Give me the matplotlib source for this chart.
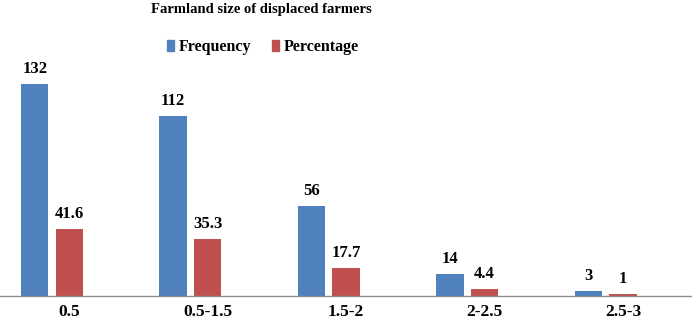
import matplotlib
matplotlib.use("Agg")
import matplotlib.pyplot as plt
import numpy as np

categories = ["0.5", "0.5-1.5", "1.5-2", "2-2.5", "2.5-3"]
frequency = [132, 112, 56, 14, 3]
percentage = [41.6, 35.3, 17.7, 4.4, 1]
freq_labels = ["132", "112", "56", "14", "3"]
pct_labels = ["41.6", "35.3", "17.7", "4.4", "1"]

plt.rcParams['font.family'] = ['Liberation Serif', 'DejaVu Serif']
plt.rcParams['font.weight'] = 'bold'

W, H = 692, 325
fig = plt.figure(figsize=(W/100, H/100), dpi=100)
ax = fig.add_axes([0, (H-296)/H, 1, 296/H])

blue = "#4F81BD"
red = "#C0504D"
x = np.arange(len(categories))
bw = 0.199
off = 0.125
b1 = ax.bar(x - off, frequency, bw, color=blue, label="Frequency")
b2 = ax.bar(x + off, percentage, bw, color=red, label="Percentage")

for bars, labs in ((b1, freq_labels), (b2, pct_labels)):
    for rect, lab in zip(bars, labs):
        ax.annotate(lab, (rect.get_x() + rect.get_width()/2, rect.get_height()),
                    xytext=(0, 5), textcoords="offset points", ha="center", va="bottom",
                    fontsize=12, fontweight="bold")

ax.set_xlim(-52/138.4, (692-52)/138.4)
ax.set_ylim(0, 296/1.606)
ax.set_xticks(x + off)
ax.set_xticklabels(categories, fontsize=12.5, fontweight="bold")
ax.tick_params(axis='x', length=0, pad=6)
ax.set_yticks([])
for s in ["top", "left", "right"]:
    ax.spines[s].set_visible(False)
ax.spines["bottom"].set_color("#8C8C8C")
ax.spines["bottom"].set_linewidth(1.0)
ax.patch.set_alpha(0)

fig.text(261/W, 1 - 9/H, "Farmland size of displaced farmers", ha="center", va="center",
         fontsize=10.5, fontweight="bold")

handles = [plt.Rectangle((0, 0), 1, 1, color=blue), plt.Rectangle((0, 0), 1, 1, color=red)]
fig.legend(handles, ["Frequency", "Percentage"], loc="center", bbox_to_anchor=(263/W, 1 - 47/H),
           ncol=2, frameon=False, handlelength=0.45, handleheight=0.75,
           handletextpad=0.3, columnspacing=1.3, prop={'weight': 'bold', 'size': 11.5})

fig.savefig("out.png", dpi=100)
